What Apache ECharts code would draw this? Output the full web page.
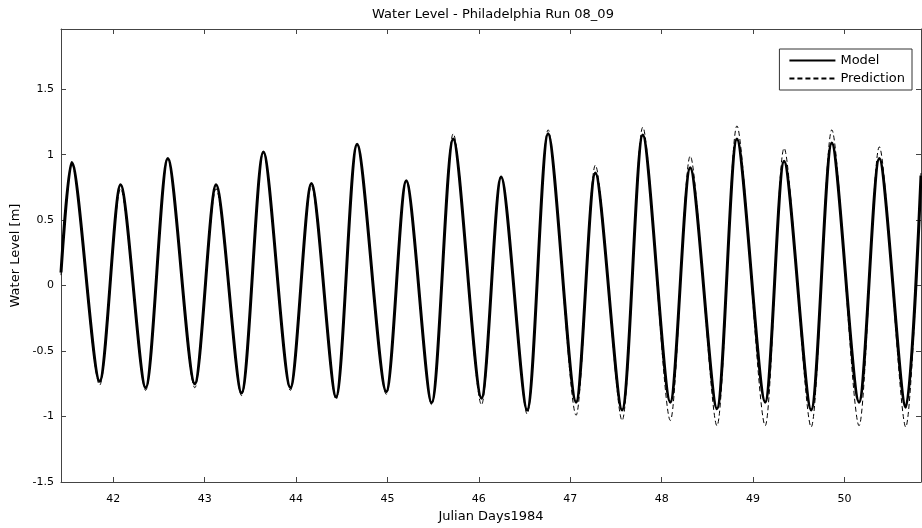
<!DOCTYPE html>
<html>
<head>
<meta charset="utf-8">
<script src="https://cdn.jsdelivr.net/npm/echarts@6/dist/echarts.min.js"></script>
<style>
  html, body { margin: 0; padding: 0; background: #fff; }
  #main { width: 922px; height: 528px; }
</style>
</head>
<body>
<div id="main"></div>
<script>
// times (Julian day) of the read points: left edge, then high / low water turns, right edge
const days = [
  41.428, 41.545, 41.851, 42.080, 42.354, 42.597, 42.892,
  43.125, 43.403, 43.643, 43.938, 44.168, 44.437, 44.668, 44.987,
  45.206, 45.483, 45.720, 46.029, 46.244, 46.528, 46.758,
  47.064, 47.275, 47.567, 47.794, 48.095, 48.313, 48.605, 48.824,
  49.133, 49.340, 49.636, 49.862, 50.160, 50.382, 50.671, 50.838
];
const model = [
  0.10, 0.94, -0.73, 0.77, -0.78, 0.97, -0.75,
  0.77, -0.82, 1.02, -0.78, 0.78, -0.85, 1.08, -0.81,
  0.80, -0.895, 1.12, -0.86, 0.83, -0.95, 1.16,
  -0.89, 0.86, -0.95, 1.15, -0.89, 0.90, -0.94, 1.12,
  -0.89, 0.95, -0.95, 1.09, -0.89, 0.97, -0.93, 0.84
];
const prediction = [
  0.08, 0.93, -0.76, 0.74, -0.80, 0.97, -0.78,
  0.74, -0.84, 1.02, -0.80, 0.76, -0.87, 1.08, -0.83,
  0.80, -0.91, 1.16, -0.91, 0.84, -0.98, 1.19,
  -0.99, 0.92, -1.03, 1.21, -1.03, 0.99, -1.07, 1.22,
  -1.07, 1.05, -1.08, 1.19, -1.07, 1.06, -1.08, 0.86
];
const xTicks = [42, 43, 44, 45, 46, 47, 48, 49, 50];

const font = 'DejaVu Sans';
const axisColor = '#444';

let myChart = echarts.init(document.getElementById('main'));

const xBase = {
  type: 'value',
  min: 41.428,
  max: 50.838,
  splitLine: { show: false },
  axisLine: { onZero: false, lineStyle: { color: axisColor, width: 1 } },
  axisTick: { inside: true, length: 5, customValues: xTicks, lineStyle: { color: axisColor } }
};
const yBase = {
  type: 'value',
  min: -1.5,
  max: 1.96,
  interval: 0.5,
  splitLine: { show: false },
  axisLine: { onZero: false, lineStyle: { color: axisColor, width: 1 } },
  axisTick: { inside: true, length: 5, lineStyle: { color: axisColor } }
};

let option = {
  backgroundColor: '#fff',
  animation: false,
  title: {
    text: 'Water Level - Philadelphia Run 08_09',
    left: 488,
    top: 3,
    textAlign: 'center',
    textStyle: { fontFamily: font, fontSize: 13, fontWeight: 'normal', color: '#000' }
  },
  legend: {
    orient: 'vertical',
    right: 10,
    top: 49,
    itemWidth: 46,
    itemHeight: 14,
    itemGap: 5,
    padding: [5, 7, 5, 9],
    borderColor: '#333',
    borderWidth: 1,
    backgroundColor: '#fff',
    itemStyle: { opacity: 0 },
    textStyle: { fontFamily: font, fontSize: 13, color: '#000' },
    data: ['Model', 'Prediction']
  },
  grid: { left: 61, right: 1, top: 29, bottom: 42 },
  xAxis: [
    Object.assign({}, xBase, {
      position: 'bottom',
      name: 'Julian Days1984',
      nameLocation: 'middle',
      nameGap: 28,
      nameTextStyle: { fontFamily: font, fontSize: 13, color: '#000' },
      axisLabel: { customValues: xTicks, margin: 12, fontFamily: font, fontSize: 11, color: '#000' }
    }),
    Object.assign({}, xBase, { position: 'top', axisLabel: { show: false } })
  ],
  yAxis: [
    Object.assign({}, yBase, {
      position: 'left',
      name: 'Water Level [m]',
      nameLocation: 'middle',
      nameGap: 37,
      nameTextStyle: { fontFamily: font, fontSize: 13, color: '#000' },
      axisLabel: {
        margin: 7,
        fontFamily: font, fontSize: 11, color: '#000',
        formatter: function (v) {
          return Math.abs(v * 2 - Math.round(v * 2)) < 1e-6 ? String(v) : '';
        }
      }
    }),
    Object.assign({}, yBase, { position: 'right', axisLabel: { show: false } })
  ],
  series: [
    {
      name: 'Model',
      type: 'line',
      symbol: 'none',
      smooth: 0.28,
      lineStyle: { color: '#000', width: 3 },
      itemStyle: { color: '#000' },
      data: days.map((d, i) => [d, model[i]])
    },
    {
      name: 'Prediction',
      type: 'line',
      symbol: 'none',
      smooth: 0.28,
      lineStyle: { color: '#000', width: 1, type: [5, 3] },
      itemStyle: { color: '#000' },
      data: days.map((d, i) => [d, prediction[i]])
    }
  ]
};

myChart.setOption(option);
</script>
</body>
</html>
